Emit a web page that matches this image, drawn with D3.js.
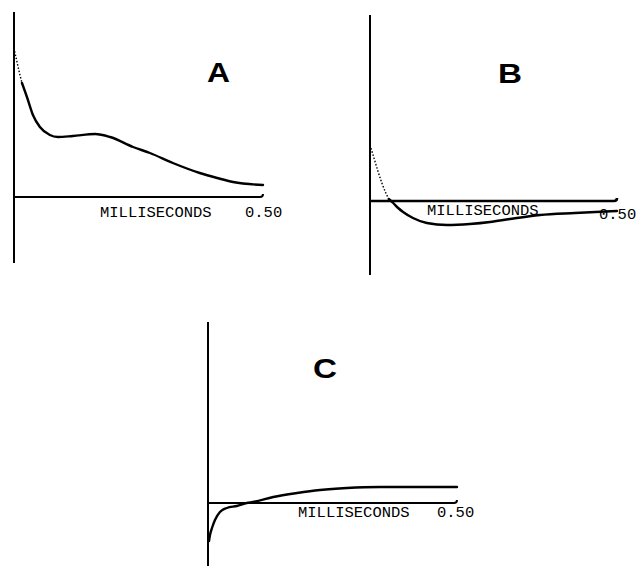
<!DOCTYPE html>
<html>
<head>
<meta charset="utf-8">
<script src="https://cdn.jsdelivr.net/npm/d3@7"></script>
<style>
  html, body { margin: 0; padding: 0; background: #fff; }
  svg { display: block; }
  .tag { font-family: "Liberation Sans", Arial, sans-serif; font-weight: bold; }
  .unit { font-family: "Liberation Mono", "DejaVu Sans Mono", monospace; }
</style>
</head>
<body>
<svg id="chart" width="638" height="577"></svg>
<script>
// Time (ms) and relative amplitude for each of the three traces.
const panelNames = ["A", "B", "C"];
const timeLabel = "MILLISECONDS";
const endTickLabel = "0.50";
const timeDomain = [0, 0.5];

const timeA = [0, 0.006, 0.012, 0.016, 0.026, 0.038, 0.052, 0.072, 0.088, 0.118, 0.163, 0.193, 0.239, 0.273, 0.319, 0.373, 0.408, 0.440, 0.5];
const ampA  = [1.49, 1.35, 1.22, 1.14, 1.00, 0.82, 0.70, 0.62, 0.60, 0.61, 0.63, 0.60, 0.50, 0.44, 0.34, 0.24, 0.19, 0.15, 0.12];
const dottedA = 4;   // leading points drawn with the faint dotted pen

const timeB = [0, 0.008, 0.016, 0.024, 0.032, 0.038, 0.047, 0.057, 0.067, 0.087, 0.115, 0.156, 0.202, 0.243, 0.283, 0.344, 0.415, 0.5];
const ampB  = [0.56, 0.43, 0.30, 0.18, 0.08, 0.02, -0.02, -0.07, -0.11, -0.17, -0.22, -0.24, -0.23, -0.21, -0.18, -0.14, -0.12, -0.10];
const dottedB = 6;

const timeC = [0.002, 0.004, 0.008, 0.014, 0.024, 0.038, 0.058, 0.078, 0.090, 0.131, 0.179, 0.225, 0.279, 0.345, 0.412, 0.5];
const ampC  = [-0.38, -0.32, -0.25, -0.17, -0.09, -0.05, -0.03, 0.0, 0.01, 0.06, 0.10, 0.13, 0.15, 0.16, 0.16, 0.16];
const dottedC = 0;

const svg = d3.select("#chart");

// Placement of each small plot on the page.
const panels = [
  { name: panelNames[0], t: timeA, a: ampA, dotted: dottedA,
    xr: [14, 263], yd: [-0.66, 1.85], yr: [263, 12],
    tag: [207, 82, 23], label: [100, 217], end: [245, 217] },
  { name: panelNames[1], t: timeB, a: ampB, dotted: dottedB,
    xr: [370, 617], yd: [-0.74, 1.86], yr: [275, 15],
    tag: [498, 83, 24], label: [427, 215], end: [599, 219] },
  { name: panelNames[2], t: timeC, a: ampC, dotted: dottedC,
    xr: [208, 457], yd: [-0.63, 1.81], yr: [566, 322],
    tag: [313, 378, 24], label: [298, 517], end: [437, 517] }
];

panels.forEach(p => {
  const x = d3.scaleLinear().domain(timeDomain).range(p.xr);
  const y = d3.scaleLinear().domain(p.yd).range(p.yr);
  const g = svg.append("g");

  // vertical (amplitude) axis
  g.append("line")
    .attr("x1", x(0)).attr("x2", x(0))
    .attr("y1", y(p.yd[1])).attr("y2", y(p.yd[0]))
    .attr("stroke", "#000").attr("stroke-width", 2);

  // time axis along zero amplitude, with the pen's small upturn at its end
  const x0 = x(0), x1 = x(timeDomain[1]), y0 = y(0);
  g.append("path")
    .attr("d", `M${x0},${y0}H${x1 - 3}Q${x1},${y0} ${x1},${y0 - 3}`)
    .attr("fill", "none")
    .attr("stroke", "#000").attr("stroke-width", p.name === "B" ? 2.6 : 2);

  const pts = p.t.map((t, i) => [t, p.a[i]]);
  const line = d3.line()
    .x(d => x(d[0])).y(d => y(d[1]))
    .curve(d3.curveMonotoneX);

  if (p.dotted > 0) {
    g.append("path")
      .datum(pts.slice(0, p.dotted))
      .attr("d", line)
      .attr("fill", "none").attr("stroke", "#000")
      .attr("stroke-width", 1.4).attr("stroke-dasharray", "1.5,1.8");
  }
  g.append("path")
    .datum(pts.slice(Math.max(0, p.dotted - 1)))
    .attr("d", line)
    .attr("fill", "none").attr("stroke", "#000")
    .attr("stroke-width", 2.4).attr("stroke-linecap", "round");

  // panel letter
  g.append("text").attr("class", "tag")
    .attr("x", p.tag[0]).attr("y", p.tag[1])
    .attr("font-size", 27)
    .attr("textLength", p.tag[2]).attr("lengthAdjust", "spacingAndGlyphs")
    .text(p.name);

  // axis captions
  g.append("text").attr("class", "unit")
    .attr("x", p.label[0]).attr("y", p.label[1])
    .attr("font-size", 15.5)
    .text(timeLabel);
  g.append("text").attr("class", "unit")
    .attr("x", p.end[0]).attr("y", p.end[1])
    .attr("font-size", 15.5)
    .text(endTickLabel);
});
</script>
</body>
</html>
